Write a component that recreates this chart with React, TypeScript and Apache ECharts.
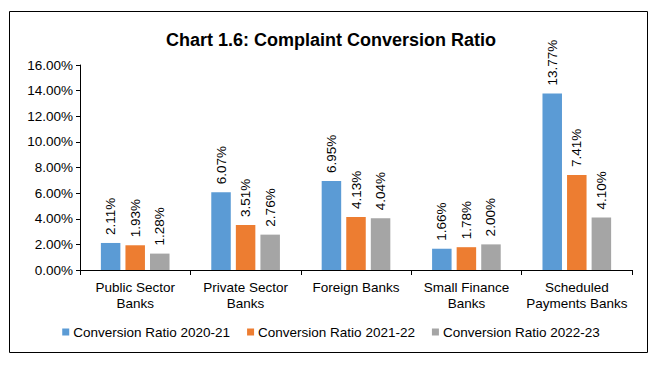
import React, { useEffect, useRef } from "react";
import * as echarts from "echarts";

const categories = [
  "Public Sector\nBanks",
  "Private Sector\nBanks",
  "Foreign Banks",
  "Small Finance\nBanks",
  "Scheduled\nPayments Banks",
];
const seriesNames = [
  "Conversion Ratio 2020-21",
  "Conversion Ratio 2021-22",
  "Conversion Ratio 2022-23",
];
const ratio2020 = [2.11, 6.07, 6.95, 1.66, 13.77];
const ratio2021 = [1.93, 3.51, 4.13, 1.78, 7.41];
const ratio2022 = [1.28, 2.76, 4.04, 2.0, 4.1];
const colors = ["#5B9BD5", "#ED7D31", "#A5A5A5"];
const titleText = "Chart 1.6: Complaint Conversion Ratio";

const FONT = "'Liberation Sans', Arial, sans-serif";

export default function App() {
  const ref = useRef<HTMLDivElement>(null);
  useEffect(() => {
    if (!ref.current) return;
    const chart = echarts.init(ref.current, null, { renderer: "svg" });
    const dataSets = [ratio2020, ratio2021, ratio2022];
    chart.setOption({
      animation: false,
      backgroundColor: "#ffffff",
      textStyle: { fontFamily: FONT },
      title: {
        text: titleText,
        left: "center",
        top: 26,
        textStyle: { fontFamily: FONT, fontSize: 18, fontWeight: "bold", color: "#000" },
      },
      graphic: [
        {
          type: "rect",
          shape: { x: 9.5, y: 11.5, width: 638, height: 341 },
          style: { fill: "none", stroke: "#000", lineWidth: 1 },
          silent: true,
        },
      ],
      legend: {
        data: seriesNames,
        left: "center",
        top: 320,
        itemWidth: 7,
        itemHeight: 7,
        itemGap: 17,
        icon: "rect",
        textStyle: { fontFamily: FONT, fontSize: 13.5, color: "#000", padding: [0, 0, 0, -1] },
      },
      grid: { left: 80, right: 30, top: 65, bottom: 109 },
      xAxis: {
        type: "category",
        data: categories,
        axisLine: { lineStyle: { color: "#000" } },
        axisTick: { show: true, length: 5, lineStyle: { color: "#000" } },
        axisLabel: {
          fontFamily: FONT,
          fontSize: 13.5,
          color: "#000",
          margin: 9,
          lineHeight: 16,
          interval: 0,
        },
      },
      yAxis: {
        type: "value",
        min: 0,
        max: 16,
        interval: 2,
        splitLine: { show: false },
        axisLine: { show: true, lineStyle: { color: "#000" } },
        axisTick: { show: true, length: 4, lineStyle: { color: "#000" } },
        axisLabel: {
          fontFamily: FONT,
          fontSize: 13.5,
          color: "#000",
          margin: 7,
          formatter: (v: number) => v.toFixed(2) + "%",
        },
      },
      series: seriesNames.map((name, i) => ({
        name,
        type: "bar",
        data: dataSets[i],
        barWidth: 19.5,
        barGap: "26%",
        itemStyle: { color: colors[i] },
        label: {
          show: true,
          position: "top",
          rotate: 90,
          align: "left",
          verticalAlign: "middle",
          distance: 8,
          fontFamily: FONT,
          fontSize: 13.5,
          color: "#000",
          formatter: (p: any) => p.value.toFixed(2) + "%",
        },
      })),
    });
    return () => chart.dispose();
  }, []);
  return (
    <div
      ref={ref}
      style={{ position: "fixed", left: 0, top: 0, width: 662, height: 379 }}
    />
  );
}
